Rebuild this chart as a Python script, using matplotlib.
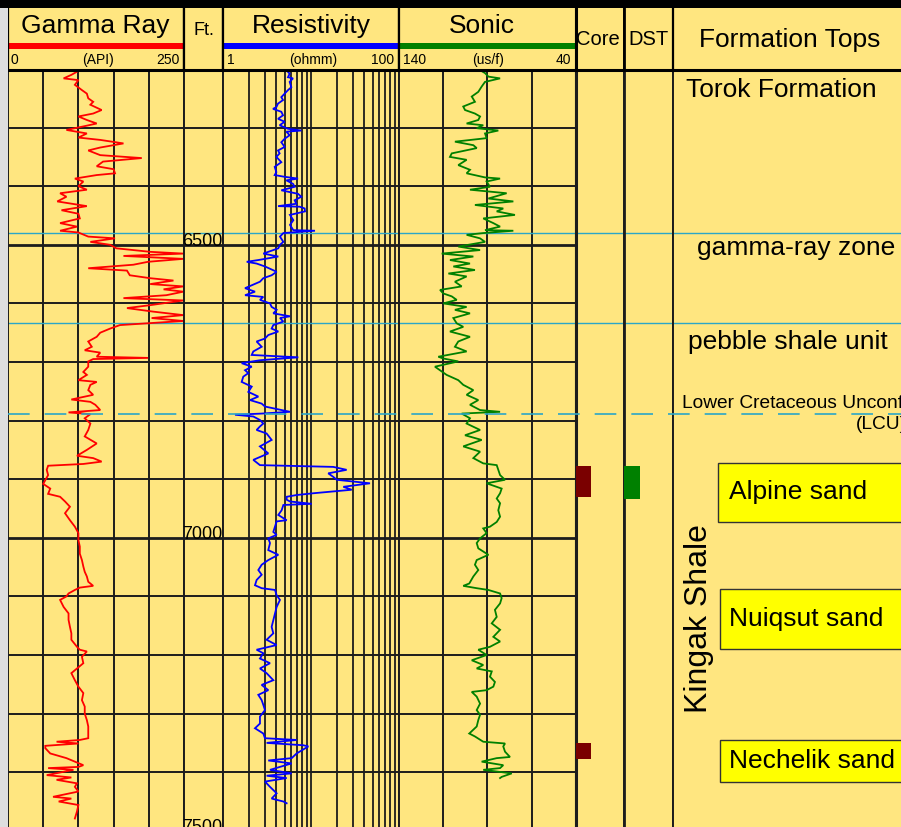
import numpy as np
import matplotlib
matplotlib.use("Agg")
import matplotlib.pyplot as plt
from matplotlib.patches import Rectangle
import matplotlib.transforms as mtransforms

plt.rcParams['font.family'] = ['Liberation Sans', 'DejaVu Sans']

# ------------------------------------------------------------------ data
gr_depth = [6202, 6210, 6216, 6219, 6227, 6236, 6242, 6250, 6256, 6261, 6270, 6276, 6281, 6287, 6293,
            6298, 6304, 6310, 6317, 6321, 6327, 6334, 6339, 6347, 6352, 6358, 6366, 6371, 6378, 6381,
            6387, 6392, 6400, 6406, 6412, 6418, 6426, 6434, 6441, 6447, 6455, 6463, 6469, 6476, 6479,
            6486, 6489, 6495, 6500, 6506, 6512, 6515, 6519, 6524, 6529, 6534, 6540, 6544, 6552, 6557,
            6561, 6567, 6571, 6576, 6580, 6586, 6591, 6595, 6603, 6608, 6614, 6620, 6625, 6630, 6634,
            6637, 6643, 6650, 6657, 6665, 6674, 6680, 6684, 6691, 6693,
            6695, 6699, 6708, 6717, 6722, 6731, 6734, 6739, 6748, 6756, 6764, 6768, 6773, 6782, 6786,
            6789, 6796, 6805, 6816, 6827, 6839, 6850, 6860, 6864, 6870, 6874, 6877, 6884, 6893, 6908,
            6916, 6925, 6930, 6938, 6947,
            6958, 6970, 6981, 6992, 7004, 7015, 7027, 7038, 7049, 7058, 7066, 7075, 7082, 7085, 7089,
            7095, 7100, 7106, 7118, 7129, 7140, 7152, 7163, 7174, 7186, 7191, 7194, 7203, 7214, 7226,
            7231, 7243, 7254, 7265, 7277, 7288, 7300, 7311, 7322, 7334, 7342, 7345, 7348, 7351, 7355,
            7359, 7368, 7376, 7388, 7391, 7393, 7396, 7405, 7409, 7413, 7419, 7425, 7433, 7442, 7445,
            7450, 7456, 7467, 7479]
gr_api = [102, 90, 79, 100, 95, 105, 112, 114, 121, 117, 133, 121, 100, 112, 126,
          107, 83, 112, 100, 131, 164, 131, 114, 131, 190, 135, 126, 150, 152, 126,
          95, 107, 100, 112, 74, 83, 70, 112, 76, 100, 102, 74, 98, 74, 100,
          114, 152, 117, 145, 154, 202, 249, 164, 249, 199, 178, 114, 169, 173, 202,
          235, 202, 249, 221, 249, 225, 164, 249, 202, 169, 206, 249, 204, 249, 197,
          159, 145, 131, 126, 114, 119, 109, 131, 126, 199,
          121, 114, 114, 107, 112, 100, 126, 117, 114, 121, 90, 117, 124, 131, 86,
          117, 109, 117, 114, 109, 126, 112, 98, 121, 133, 107, 57, 55, 57, 50,
          60, 57, 74, 81, 88,
          81, 88, 95, 100, 100, 102, 102, 105, 107, 109, 112, 114, 121, 102, 95,
          86, 83, 74, 79, 86, 86, 88, 90, 90, 98, 102, 112, 105, 107, 95,
          90, 95, 100, 107, 105, 109, 109, 112, 114, 114, 114, 102, 69, 100, 53,
          53, 60, 83, 107, 100, 57, 93, 55, 90, 69, 98, 95, 100, 64, 90,
          72, 100, 98, 95]

res_depth = [6202, 6208, 6214, 6216, 6222, 6231, 6236, 6242, 6248, 6253, 6259, 6265, 6268, 6273, 6279,
             6285, 6290, 6296, 6302, 6305, 6307, 6313, 6319, 6325, 6333, 6339, 6344, 6350, 6359, 6367,
             6376, 6381, 6384, 6387, 6390, 6396, 6401, 6407, 6413, 6418, 6424, 6430, 6434, 6435, 6438,
             6443, 6449, 6458, 6466, 6475, 6476, 6480, 6486, 6495, 6500, 6506, 6512, 6515, 6520, 6526,
             6529, 6532, 6537, 6546, 6552, 6557, 6563, 6569, 6574, 6580, 6586, 6589, 6594, 6600, 6606,
             6611, 6617, 6622, 6625, 6631, 6637, 6643, 6648, 6654, 6660, 6665, 6674, 6682, 6688, 6692,
             6697, 6702, 6708, 6714, 6719, 6725, 6734, 6742, 6751, 6759, 6765, 6771, 6776, 6785, 6788,
             6790, 6793, 6799, 6805, 6810, 6816, 6822, 6833, 6844, 6856, 6867, 6876, 6879, 6884, 6890,
             6896, 6901, 6907, 6913, 6918, 6924, 6927, 6930,
             6935, 6938, 6942, 6944, 6953, 6961, 6970, 6972, 6981, 6990, 6995, 7001, 7009, 7021, 7029,
             7038, 7046, 7055, 7063, 7072, 7081, 7086, 7089, 7098, 7106, 7118, 7129, 7140, 7152, 7163,
             7174, 7183, 7191, 7197, 7206, 7214, 7223, 7231, 7243, 7251, 7260, 7268, 7277, 7285, 7294,
             7305, 7317, 7325, 7334, 7342, 7345, 7350, 7354, 7356, 7368, 7376, 7380, 7385, 7391, 7396,
             7402, 7406, 7410, 7416, 7425, 7436, 7445, 7450, 7453]
res_ohmm = [5.25, 5.72, 5.48, 6.24, 5.72, 5.98, 5.48, 5.02, 4.6, 4.81, 4.22, 4.04, 3.7, 4.6, 4.81,
            4.22, 5.02, 4.4, 5.48, 7.77, 5.25, 5.72, 5.02, 4.6, 5.02, 4.22, 4.4, 4.04, 4.6, 3.87,
            4.04, 3.87, 5.02, 7.12, 5.25, 6.24, 6.52, 4.6, 7.12, 7.77, 6.52, 6.81, 4.22, 7.43, 8.47,
            8.55, 5.77, 6.3, 5.77, 6.3, 11.1, 4.85, 4.44, 4.85, 4.44, 4.25, 3.27, 2.87, 4.25, 2.52,
            1.86, 2.41, 3.0, 4.07, 3.57, 2.87, 2.63, 2.12, 1.78, 2.31, 1.78, 2.87, 2.63, 3.42, 3.57,
            4.07, 3.73, 5.77, 4.44, 4.85, 3.73, 3.57, 4.25, 3.27, 3.0, 2.41, 2.75, 2.21, 2.12, 7.18,
            2.63, 1.63, 2.12, 1.78, 1.94, 1.70, 1.63, 2.12, 1.94, 2.52, 2.03, 2.75, 3.0, 5.77, 2.75,
            1.37, 2.21, 2.63, 2.87, 2.63, 2.41, 3.13, 3.57, 2.63, 3.27, 2.21, 2.63, 17.9, 25.4, 15.7,
            17.9, 19.6, 46.8, 23.3, 29.0, 10.6, 6.87, 5.29,
            5.29, 5.77, 10.2, 4.85, 4.64, 4.25, 5.29, 4.07, 3.9, 3.73, 4.07, 3.27, 3.42, 3.27, 4.25,
            3.27, 2.75, 2.52, 2.75, 2.41, 2.31, 2.75, 3.9, 4.07, 4.44, 4.07, 3.9, 3.73, 3.57, 3.73,
            3.13, 4.07, 2.41, 2.87, 2.63, 3.42, 2.63, 3.13, 3.73, 2.75, 3.27, 2.52, 2.75, 2.87, 3.0,
            2.63, 2.63, 2.31, 2.87, 3.0, 6.87, 3.13, 8.18, 9.33, 6.87, 6.03, 3.27, 6.03, 4.44, 3.42,
            6.03, 3.13, 5.29, 3.0, 3.42, 4.07, 3.57, 4.85, 5.29]

son_depth = [6202, 6207, 6213, 6216, 6222, 6230, 6239, 6247, 6256, 6264, 6270, 6276, 6281, 6287, 6293,
             6296, 6301, 6305, 6310, 6318, 6324, 6330, 6335, 6344, 6350, 6355, 6364, 6372, 6378, 6385,
             6387, 6392, 6401, 6406, 6412, 6421, 6426, 6432, 6438, 6443, 6449, 6455, 6463, 6469, 6475,
             6476, 6480, 6483, 6489, 6495, 6503, 6509, 6515, 6520, 6526, 6532, 6537, 6543, 6549, 6554,
             6563, 6571, 6577, 6583, 6588, 6594, 6600, 6606, 6611, 6617, 6625, 6634, 6640, 6648, 6657,
             6665, 6674, 6682, 6691, 6694, 6699, 6708, 6716, 6722, 6731, 6739, 6748, 6756, 6765, 6773,
             6782, 6785, 6788, 6796, 6805, 6816, 6825, 6833, 6844, 6853, 6864,
             6873, 6876, 6884, 6893, 6901, 6907, 6916, 6924, 6933, 6941, 6953, 6964, 6973, 6981, 6984,
             6992, 7001, 7009, 7018, 7029, 7038, 7046, 7055, 7066, 7078, 7082, 7086, 7089, 7095, 7103,
             7112, 7123, 7135, 7146, 7157, 7169, 7177, 7186, 7191, 7200, 7209, 7217, 7223, 7228, 7237,
             7246, 7254, 7260, 7263, 7271, 7283, 7294, 7302, 7311, 7322, 7334, 7339, 7348, 7351, 7356,
             7365, 7374, 7376, 7382, 7388, 7393, 7396, 7402, 7408, 7410]
son_usf = [94.2, 91.4, 89.5, 82.9, 91.4, 93.3, 95.2, 98.9, 97.1, 103.7, 102.7, 97.1, 94.2, 95.2, 101.8,
           92.4, 96.1, 83.9, 91.4, 90.5, 108.4, 98.0, 96.1, 110.2, 111.2, 101.8, 106.5, 99.9, 101.8, 91.4,
           82.9, 90.5, 88.6, 99.9, 79.2, 89.5, 75.4, 97.1, 81.1, 84.8, 74.5, 92.4, 86.7, 82.9, 91.4,
           75.4, 92.4, 101.8, 94.2, 91.4, 106.5, 94.2, 115.9, 98.0, 111.2, 99.9, 109.3, 97.1, 112.1, 101.8,
           108.4, 104.6, 116.8, 115.0, 110.2, 107.4, 115.0, 101.8, 108.4, 99.9, 109.3, 107.4, 103.7, 111.2, 99.9,
           106.5, 108.4, 101.8, 117.8, 115.0, 106.5, 119.7, 115.9, 113.1, 106.5, 103.7, 98.0, 101.8, 95.2, 99.9,
           94.2, 82.9, 104.6, 99.9, 101.8, 94.2, 102.7, 93.3, 103.7, 94.2, 98.0,
           92.4, 84.8, 83.9, 82.9, 80.1, 90.5, 82.0, 82.9, 84.8, 82.9, 83.9, 82.9, 84.8, 88.6, 92.4,
           90.5, 94.2, 96.1, 95.2, 89.5, 96.1, 97.1, 95.2, 98.0, 100.3, 103.7, 96.1, 89.5, 82.9, 82.0,
           82.9, 85.8, 84.8, 87.6, 82.9, 86.7, 82.9, 88.6, 95.2, 90.5, 98.9, 92.4, 96.1, 87.6, 88.6,
           85.8, 86.7, 90.5, 98.9, 96.1, 94.2, 96.1, 94.2, 95.2, 96.1, 100.3, 97.1, 92.4, 80.1, 81.1,
           80.1, 77.3, 84.8, 93.3, 81.1, 82.9, 92.4, 76.3, 82.0, 82.9]

grid_depths = [6200, 6300, 6400, 6500, 6600, 6700, 6800, 6900, 7000, 7100, 7200, 7300, 7400]
depth_labels = [6500, 7000, 7500]
gr_grid = [50, 100, 150, 200]
res_grid = [2, 3, 4, 5, 6, 7, 8, 9, 10, 20, 30, 40, 50, 60, 70, 80, 90]
son_grid = [115, 90, 65]

top_lines = [6480, 6634]
lcu_line = 6789

core_top = [6877, 7350]
core_base = [6930, 7377]
dst_top = [6877]
dst_base = [6933]

plain_tops = ["Torok Formation", "gamma-ray zone", "pebble shale unit"]
plain_tops_depth = [6236, 6505, 6666]
sand_names = ["Alpine sand", "Nuiqsut sand", "Nechelik sand"]
sand_top = [6872, 7087, 7345]
sand_base = [6973, 7190, 7417]

# ------------------------------------------------------------------ style
W, H = 901, 827
YEL = '#FFE680'
GRID = '#1c1c1c'
CYAN = '#2BA6C8'
D_TOP = 6200
D_BOT = 6200 + (827 - 69) / 0.586

fig = plt.figure(figsize=(W / 100, H / 100), dpi=100, facecolor=YEL)


def px_axes(x0, x1, y0, y1, **kw):
    return fig.add_axes([x0 / W, 1 - y1 / H, (x1 - x0) / W, (y1 - y0) / H], **kw)


def style_track(ax, lw_l=1.4, lw_r=1.4):
    ax.set_ylim(D_BOT, D_TOP)
    ax.set_facecolor(YEL)
    ax.set_xticks([])
    ax.set_yticks([])
    ax.tick_params(which='both', length=0)
    for s in ('top', 'bottom'):
        ax.spines[s].set_visible(False)
    ax.spines['left'].set_linewidth(lw_l)
    ax.spines['right'].set_linewidth(lw_r)
    ax.spines['left'].set_color(GRID)
    ax.spines['right'].set_color(GRID)


Y0, Y1 = 69, 827
ax_gr = px_axes(8, 184, Y0, Y1)
ax_dp = px_axes(184, 223, Y0, Y1)
ax_res = px_axes(223, 399, Y0, Y1)
ax_son = px_axes(399, 576, Y0, Y1)
ax_core = px_axes(576, 624, Y0, Y1)
ax_dst = px_axes(624, 673, Y0, Y1)
ax_top = px_axes(673, 901, Y0, Y1)

ax_gr.set_xlim(0, 250)
ax_res.set_xscale('log')
ax_res.set_xlim(1, 100)
ax_son.set_xlim(140, 40)
for a in (ax_dp, ax_core, ax_dst, ax_top):
    a.set_xlim(0, 1)

for a in (ax_gr, ax_dp, ax_res, ax_son, ax_core, ax_dst, ax_top):
    style_track(a)
ax_son.spines['right'].set_linewidth(2.2)
ax_core.spines['left'].set_linewidth(2.2)
ax_core.spines['right'].set_linewidth(2.0)
ax_dst.spines['left'].set_linewidth(2.0)
ax_top.spines['right'].set_visible(False)
ax_gr.spines['right'].set_linewidth(2.0)

# horizontal depth grid
for a in (ax_gr, ax_dp, ax_res, ax_son):
    for d in grid_depths:
        a.axhline(d, color=GRID, lw=2.0 if d % 500 == 0 else 1.4, zorder=1)

for v in gr_grid:
    ax_gr.axvline(v, color=GRID, lw=1.4, zorder=1)
for v in res_grid:
    ax_res.axvline(v, color=GRID, lw=1.3, zorder=1)
for v in son_grid:
    ax_son.axvline(v, color=GRID, lw=1.4, zorder=1)

# formation boundary lines across every track
for a in (ax_gr, ax_dp, ax_res, ax_son, ax_core, ax_dst, ax_top):
    for d in top_lines:
        a.axhline(d, color=CYAN, lw=1.0, zorder=1.6)

ax_lcu = px_axes(8, 901, Y0, Y1)
ax_lcu.set_ylim(D_BOT, D_TOP)
ax_lcu.set_xlim(0, 1)
ax_lcu.axis('off')
ax_lcu.patch.set_alpha(0)
ax_lcu.axhline(lcu_line, color=CYAN, lw=1.2, ls=(0, (13, 9)), zorder=1)

# curves
ax_gr.plot(gr_api, gr_depth, color='#FF0000', lw=1.3, zorder=3, solid_joinstyle='miter')
ax_res.plot(res_ohmm, res_depth, color='#0000FF', lw=1.3, zorder=3, solid_joinstyle='miter')
ax_son.plot(son_usf, son_depth, color='#008000', lw=1.3, zorder=3, solid_joinstyle='miter')

# depth labels
tr_dp = mtransforms.blended_transform_factory(ax_dp.transAxes, ax_dp.transData)
for d in depth_labels:
    ax_dp.text(0.99, d + 1.5, str(d), transform=tr_dp, ha='right', va='baseline',
               fontsize=13, color='black', clip_on=False, zorder=5)

# core and DST intervals
core_mid = [(t + b) / 2 for t, b in zip(core_top, core_base)]
core_h = [b - t for t, b in zip(core_top, core_base)]
ax_core.barh(core_mid, 0.32, height=core_h, left=0, color='#7A0000', zorder=3)
dst_mid = [(t + b) / 2 for t, b in zip(dst_top, dst_base)]
dst_h = [b - t for t, b in zip(dst_top, dst_base)]
ax_dst.barh(dst_mid, 0.32, height=dst_h, left=0, color='#008000', zorder=3)

# formation tops column
tr_top = mtransforms.blended_transform_factory(ax_top.transAxes, ax_top.transData)
plain_x = [0.057, 0.105, 0.066]
for name, d, x in zip(plain_tops, plain_tops_depth, plain_x):
    ax_top.text(x, d, name, transform=tr_top, ha='left', va='center', fontsize=19)

ax_top.text(0.039, 6770, "Lower Cretaceous Unconformity", transform=tr_top,
            ha='left', va='center', fontsize=13.75, clip_on=True)
ax_top.text(0.80, 6807, "(LCU)", transform=tr_top, ha='left', va='center',
            fontsize=13.75, clip_on=True)

box_x = [0.197, 0.206, 0.206]
for name, t, b, x in zip(sand_names, sand_top, sand_base, box_x):
    ax_top.add_patch(Rectangle((x, t), 1.2, b - t, transform=tr_top, facecolor='#FFFF00',
                               edgecolor='#333333', lw=1.0, zorder=3))
    ax_top.text(0.246, (t + b) / 2, name, transform=tr_top, ha='left', va='center',
                fontsize=19, zorder=4)

ax_top.text(0.112, 7137, "Kingak Shale", transform=tr_top, rotation=90,
            ha='center', va='center', fontsize=23, zorder=4)

# ------------------------------------------------------------------ header
def header_axes(x0, x1, lw_l=1.6, lw_r=1.6):
    h = px_axes(x0, x1, 8, 70)
    h.set_xlim(0, 1)
    h.set_ylim(62, 0)
    h.set_facecolor(YEL)
    h.set_xticks([])
    h.set_yticks([])
    h.spines['top'].set_visible(False)
    h.spines['bottom'].set_linewidth(2.2)
    h.spines['left'].set_linewidth(lw_l)
    h.spines['right'].set_linewidth(lw_r)
    return h


hg = header_axes(8, 184)
hg.text(0.494, 24.7, "Gamma Ray", ha='center', va='baseline', fontsize=19)
hg.add_patch(Rectangle((0, 35.3), 1, 5.7, color='#FF0000', lw=0))
hg.text(0.017, 56, "0", ha='left', va='baseline', fontsize=10)
hg.text(0.51, 56, "(API)", ha='center', va='baseline', fontsize=10)
hg.text(0.975, 56, "250", ha='right', va='baseline', fontsize=10)

hd = header_axes(184, 223)
hd.text(0.51, 27, "Ft.", ha='center', va='baseline', fontsize=13)

hr = header_axes(223, 399)
hr.text(0.5, 24.7, "Resistivity", ha='center', va='baseline', fontsize=19)
hr.add_patch(Rectangle((0, 35.3), 1, 5.7, color='#0000FF', lw=0))
hr.text(0.025, 56, "1", ha='left', va='baseline', fontsize=10)
hr.text(0.51, 56, "(ohmm)", ha='center', va='baseline', fontsize=10)
hr.text(0.975, 56, "100", ha='right', va='baseline', fontsize=10)

hs = header_axes(399, 576, lw_r=2.2)
hs.text(0.47, 24.7, "Sonic", ha='center', va='baseline', fontsize=19)
hs.add_patch(Rectangle((0, 35.3), 1, 5.7, color='#008000', lw=0))
hs.text(0.02, 56, "140", ha='left', va='baseline', fontsize=10)
hs.text(0.503, 56, "(us/f)", ha='center', va='baseline', fontsize=10)
hs.text(0.975, 56, "40", ha='right', va='baseline', fontsize=10)

hc = header_axes(576, 624, lw_l=2.2, lw_r=2.0)
hc.text(0.46, 37, "Core", ha='center', va='baseline', fontsize=14.5)

hdst = header_axes(624, 673, lw_l=2.0, lw_r=2.0)
hdst.text(0.49, 37, "DST", ha='center', va='baseline', fontsize=14.5)

ht = header_axes(673, 901)
ht.spines['right'].set_visible(False)
ht.text(0.51, 39.3, "Formation Tops", ha='center', va='baseline', fontsize=19)

# frame decorations
fig.add_artist(Rectangle((0, 1 - 8 / H), 1, 8 / H, transform=fig.transFigure,
                         facecolor='black', edgecolor='none', zorder=10))
fig.add_artist(Rectangle((0, 0), 8 / W, 1 - 8 / H, transform=fig.transFigure,
                         facecolor='#DEDEDE', edgecolor='none', zorder=10))

fig.savefig('out.png', dpi=100, facecolor=YEL)
